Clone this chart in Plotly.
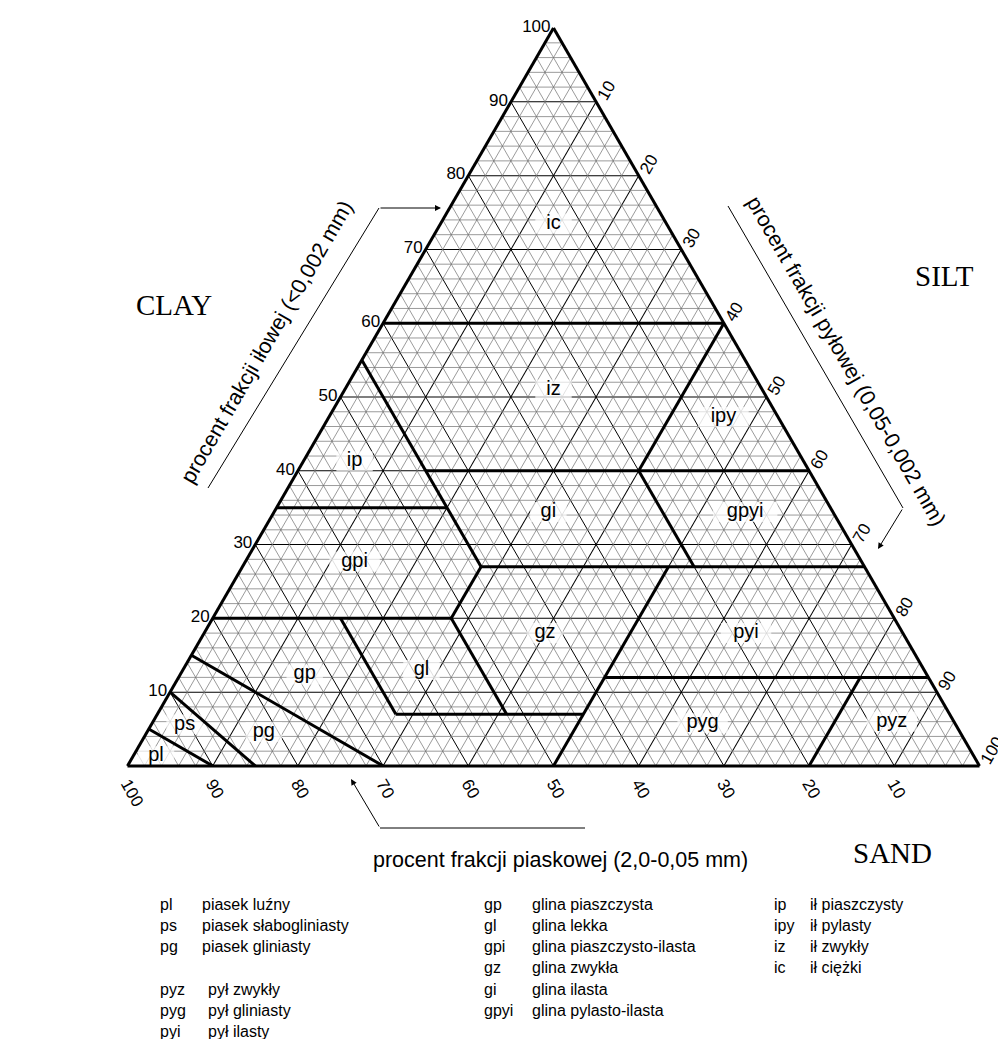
import plotly.graph_objects as go

# ---------------- data ----------------
tick_values = [10, 20, 30, 40, 50, 60, 70, 80, 90, 100]
fine_step = 2  # fine hatch grid (percent)

# class boundary segments: (clay, sand, silt) start -> end
boundary_start = [
    (60, 40, 0), (40, 45, 15), (35, 65, 0), (27, 45, 28), (20, 80, 0),
    (12, 38, 50), (7, 65, 28), (55, 45, 0), (27, 45, 28), (20, 52, 28),
    (20, 65, 15), (60, 0, 40), (40, 20, 40), (27, 23, 50), (12, 8, 80),
    (15, 85, 0), (10, 90, 0), (5, 95, 0),
]
boundary_end = [
    (60, 0, 40), (40, 0, 60), (35, 45, 20), (27, 0, 73), (20, 52, 28),
    (12, 0, 88), (7, 43, 50), (27, 45, 28), (20, 52, 28), (7, 52, 41),
    (7, 65, 28), (40, 20, 40), (27, 20, 53), (0, 50, 50), (0, 20, 80),
    (0, 70, 30), (0, 85, 15), (0, 90, 10),
]

class_codes = ["pl", "ps", "pg", "gp", "gl", "gpi", "gz", "gi", "gpyi",
               "ip", "ipy", "iz", "ic", "pyz", "pyg", "pyi"]
label_clay = [1.3, 5.6, 4.6, 12.4, 13.0, 27.7, 18.0, 34.4, 34.4,
              41.3, 47.3, 51.0, 73.5, 6.0, 5.8, 18.0]
label_sand = [96.0, 90.5, 81.7, 73.0, 59.0, 59.5, 42.0, 33.4, 10.3,
              52.7, 6.4, 24.5, 13.25, 7.3, 29.6, 18.4]
label_silt = [2.7, 3.9, 13.7, 14.6, 28.0, 12.8, 40.0, 32.2, 55.3,
              6.0, 46.3, 24.5, 13.25, 86.7, 64.6, 63.6]

legend_col1 = [("pl", "piasek luźny"), ("ps", "piasek słabogliniasty"),
               ("pg", "piasek gliniasty"), None,
               ("pyz", "pył zwykły"), ("pyg", "pył gliniasty"), ("pyi", "pył ilasty")]
legend_col2 = [("gp", "glina piaszczysta"), ("gl", "glina lekka"),
               ("gpi", "glina piaszczysto-ilasta"), ("gz", "glina zwykła"),
               ("gi", "glina ilasta"), ("gpyi", "glina pylasto-ilasta")]
legend_col3 = [("ip", "ił piaszczysty"), ("ipy", "ił pylasty"),
               ("iz", "ił zwykły"), ("ic", "ił ciężki")]

# ---------------- figure ----------------
W, H = 1006, 1039
SANS = "Liberation Sans, Arial, sans-serif"
SERIF = "Liberation Serif, Times New Roman, serif"


def px(x, y):
    return x / W, 1 - y / H


fig = go.Figure()

# fine hatch grid
ga, gb, gc = [], [], []
for v in range(fine_step, 100, fine_step):
    if v % 10 == 0:
        continue
    for p, q in [((v, 100 - v, 0), (v, 0, 100 - v)),
                 ((0, v, 100 - v), (100 - v, v, 0)),
                 ((100 - v, 0, v), (0, 100 - v, v))]:
        ga += [p[0], q[0], None]
        gb += [p[1], q[1], None]
        gc += [p[2], q[2], None]
fig.add_trace(go.Scatterternary(a=ga, b=gb, c=gc, mode="lines",
                                line=dict(color="#707070", width=0.7),
                                hoverinfo="skip", showlegend=False))

# white boxes behind class labels
fig.add_trace(go.Scatterternary(
    a=label_clay, b=label_sand, c=label_silt, mode="markers",
    marker=dict(symbol="line-ew", size=[len(s) * 10 + 6 for s in class_codes],
                color="white", line=dict(color="white", width=20)),
    hoverinfo="skip", showlegend=False))

# class boundaries
ba, bb, bc = [], [], []
for s, e in zip(boundary_start, boundary_end):
    ba += [s[0], e[0], None]
    bb += [s[1], e[1], None]
    bc += [s[2], e[2], None]
fig.add_trace(go.Scatterternary(a=ba, b=bb, c=bc, mode="lines",
                                line=dict(color="black", width=3),
                                hoverinfo="skip", showlegend=False))

# class labels
fig.add_trace(go.Scatterternary(
    a=label_clay, b=label_sand, c=label_silt, mode="text", text=class_codes,
    textposition="middle center",
    textfont=dict(family=SANS, size=20, color="black"),
    hoverinfo="skip", showlegend=False))

axis_common = dict(
    min=0, tickmode="array", tickvals=tick_values, ticktext=[str(v) for v in tick_values],
    showgrid=True, gridcolor="black", gridwidth=1,
    showline=True, linecolor="black", linewidth=3,
    ticks="", tickfont=dict(family=SANS, size=17, color="black"),
    title=dict(text=""),
)

fig.update_layout(
    width=W, height=H, autosize=False,
    margin=dict(l=0, r=0, t=0, b=0),
    paper_bgcolor="white",
    showlegend=False,
    ternary=dict(
        sum=100,
        bgcolor="white",
        domain=dict(x=[119.5 / W, 971.5 / W], y=[1 - 758 / H, 1 - 20 / H]),
        aaxis=dict(axis_common, tickangle=0),
        baxis=dict(axis_common, tickangle=60),
        caxis=dict(axis_common, tickangle=-60),
    ),
)

ann = []
shapes = []

# corner words
for txt, x, y in [("CLAY", 166, 297), ("SILT", 936, 268), ("SAND", 884, 845)]:
    ax_, ay_ = px(x, y)
    ann.append(dict(x=ax_, y=ay_, xref="paper", yref="paper", text=txt, showarrow=False,
                    xanchor="center", yanchor="middle",
                    font=dict(family=SERIF, size=29, color="black")))

# axis titles
for txt, x, y, ang in [("procent frakcji iłowej (<0,002 mm)", 259, 334, -60),
                       ("procent frakcji pyłowej (0,05-0,002 mm)", 838, 353, 60),
                       ("procent frakcji piaskowej (2,0-0,05 mm)", 552, 852, 0)]:
    ax_, ay_ = px(x, y)
    ann.append(dict(x=ax_, y=ay_, xref="paper", yref="paper", text=txt, showarrow=False,
                    xanchor="center", yanchor="middle",
                    textangle=ang, font=dict(family=SANS, size=21.5, color="black")))

# guide lines and arrows
for (x0, y0, x1, y1) in [(200, 480, 371, 200), (720, 198, 895, 500), (372, 820, 577, 820)]:
    a0, b0 = px(x0, y0)
    a1, b1 = px(x1, y1)
    shapes.append(dict(type="line", xref="paper", yref="paper", x0=a0, y0=b0, x1=a1, y1=b1,
                       line=dict(color="black", width=1)))
for (tx, ty, sx, sy) in [(433, 200, 371, 200), (870, 541, 895, 500), (343, 771, 372, 820)]:
    a0, b0 = px(tx, ty)
    ann.append(dict(x=a0, y=b0, xref="paper", yref="paper", text="", showarrow=True,
                    ax=sx - tx, ay=sy - ty, axref="pixel", ayref="pixel",
                    arrowhead=2, arrowsize=1.2, arrowwidth=1, arrowcolor="black"))

# legend
row0, dy = 896, 21.3
for col, xa, xn in [(legend_col1, 150, 192), (legend_col2, 474, 522), (legend_col3, 764, 800)]:
    for k, item in enumerate(col):
        if item is None:
            continue
        y = row0 + k * dy
        shift = 6 if (col is legend_col1 and item[0].startswith("py")) else 0
        for txt, x in [(item[0], xa), (item[1], xn + shift)]:
            ax_, ay_ = px(x, y)
            ann.append(dict(x=ax_, y=ay_, xref="paper", yref="paper", text=txt, showarrow=False,
                            xanchor="left", yanchor="middle",
                            font=dict(family=SANS, size=16, color="black")))

fig.update_layout(annotations=ann, shapes=shapes)
fig.write_html("out.html")
